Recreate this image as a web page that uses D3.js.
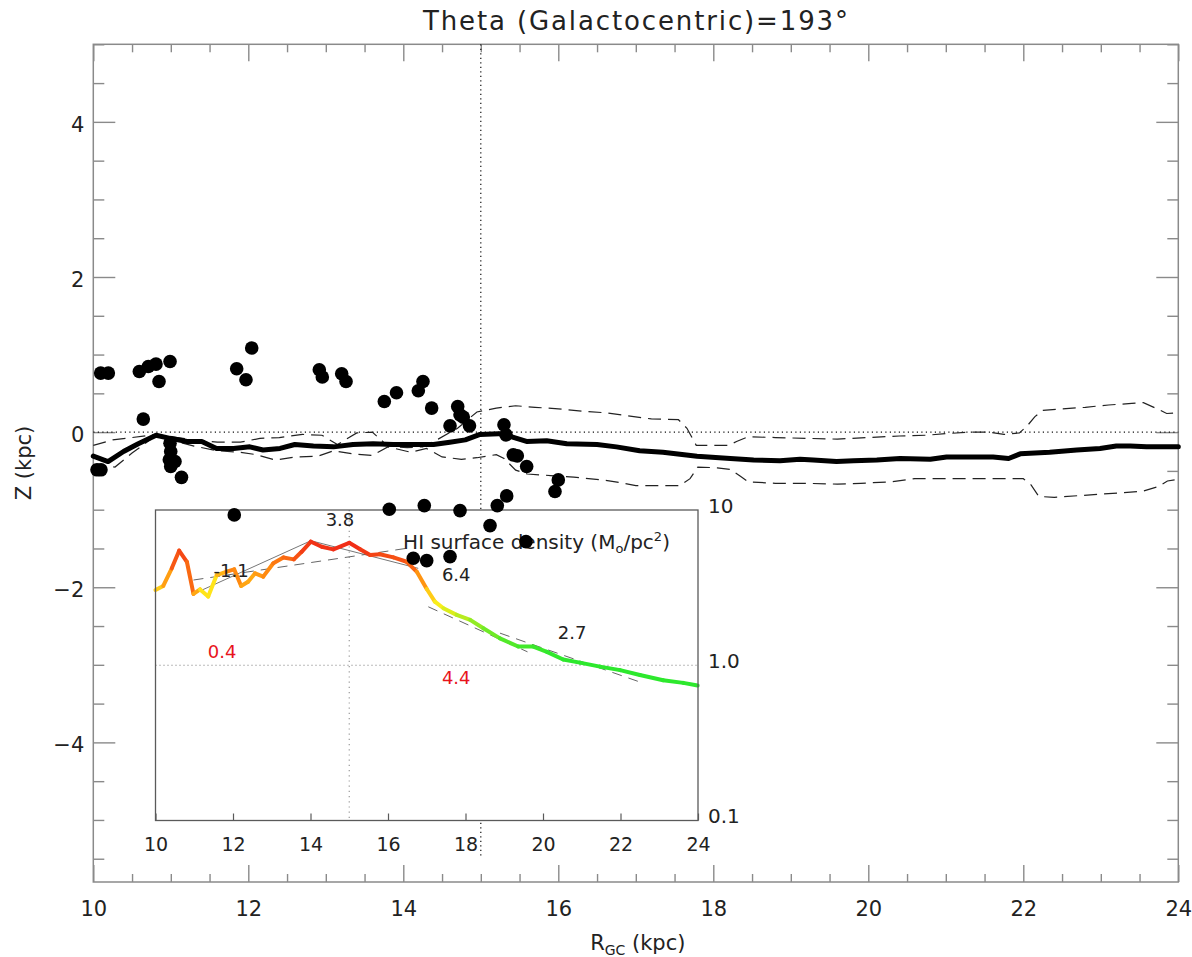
<!DOCTYPE html>
<html>
<head>
<meta charset="utf-8">
<script src="https://cdn.jsdelivr.net/npm/d3@7"></script>
<style>
  html, body { margin: 0; padding: 0; background: #fff; }
  svg { display: block; }
  text { font-family: "DejaVu Sans", sans-serif; fill: #222; }
</style>
</head>
<body>
<svg id="chart" width="1192" height="957"></svg>
<script>
// ---------- main panel: cluster positions (R, Z in kpc) ----------
const clusterR = [10.095, 10.194, 10.594, 10.710, 10.809, 10.990, 10.848, 10.645, 10.048, 10.099,
  10.990, 10.999, 10.981, 11.054, 10.999, 11.138, 11.850, 11.970, 12.044, 12.916,
  12.955, 13.205, 13.261, 13.755, 13.912, 14.194, 14.254, 14.366, 14.702, 14.732,
  14.774, 14.603, 14.854, 15.299, 15.325, 15.419, 15.471, 15.592, 16.000, 15.957,
  15.334, 15.213, 15.119, 13.819, 14.271, 14.732, 11.819, 15.583, 14.129, 14.302, 14.603];
const clusterZ = [0.761, 0.761, 0.782, 0.846, 0.877, 0.911, 0.653, 0.168, -0.486, -0.486,
  -0.142, -0.250, -0.357, -0.379, -0.444, -0.583, 0.817, 0.675, 1.084, 0.804,
  0.710, 0.752, 0.653, 0.395, 0.507, 0.533, 0.653, 0.310, 0.330, 0.223,
  0.194, 0.081, 0.081, 0.094, -0.035, -0.293, -0.306, -0.444, -0.616, -0.766,
  -0.822, -0.947, -1.205, -0.994, -0.947, -1.012, -1.067, -1.412, -1.626, -1.657, -1.605];

// ---------- main panel: mean HI mid-plane ----------
const meanR = [10.0, 10.19, 10.39, 10.58, 10.81, 10.99, 11.21, 11.40, 11.59, 11.81, 12.02, 12.19,
  12.41, 12.60, 12.84, 13.10, 13.35, 13.61, 13.87, 14.13, 14.39, 14.60, 14.80, 14.99, 15.23,
  15.40, 15.59, 15.85, 16.11, 16.50, 16.75, 17.05, 17.35, 17.79, 18.22, 18.52, 18.86, 19.12,
  19.29, 19.59, 19.81, 20.11, 20.41, 20.80, 21.01, 21.40, 21.61, 21.81, 21.96, 22.34, 22.69,
  22.99, 23.20, 23.38, 23.59, 24.0];
const meanZ = [-0.31, -0.38, -0.25, -0.15, -0.04, -0.08, -0.12, -0.12, -0.21, -0.21, -0.19, -0.23,
  -0.21, -0.16, -0.18, -0.19, -0.16, -0.15, -0.16, -0.16, -0.16, -0.13, -0.10, -0.03, -0.02,
  -0.06, -0.12, -0.11, -0.15, -0.16, -0.19, -0.24, -0.26, -0.31, -0.34, -0.36, -0.37, -0.35,
  -0.36, -0.38, -0.37, -0.36, -0.34, -0.35, -0.32, -0.32, -0.32, -0.34, -0.28, -0.26, -0.23,
  -0.21, -0.18, -0.18, -0.19, -0.19];

// ---------- main panel: upper / lower envelope ----------
const upperR = [10.0, 10.25, 10.5, 10.8, 11.0, 11.3, 11.6, 11.9, 12.15, 12.4, 12.7, 12.95, 13.15,
  13.4, 13.6, 13.8, 14.05, 14.25, 14.45, 14.7, 14.95, 15.2, 15.45, 15.7, 16.0, 16.3, 16.6, 16.9,
  17.2, 17.55, 17.66, 17.78, 18.2, 18.3, 18.45, 18.8, 19.2, 19.6, 20.0, 20.4, 20.75, 21.0, 21.3,
  21.55, 21.75, 21.95, 22.05, 22.15, 22.25, 22.5, 22.8, 23.1, 23.4, 23.55, 23.75, 23.85, 24.0];
const upperZ = [-0.17, -0.10, -0.07, -0.03, -0.06, -0.10, -0.13, -0.13, -0.08, -0.07, -0.03, -0.04, -0.16,
  -0.01, 0.0, -0.18, -0.20, -0.19, -0.09, 0.05, 0.26, 0.31, 0.34, 0.32, 0.30, 0.27, 0.25, 0.21,
  0.17, 0.16, 0.05, -0.17, -0.17, -0.12, -0.06, -0.07, -0.08, -0.09, -0.07, -0.05, -0.04, -0.02, 0.0,
  0.0, -0.03, -0.01, 0.08, 0.20, 0.28, 0.30, 0.32, 0.35, 0.37, 0.38, 0.29, 0.24, 0.25];
const lowerR = [10.0, 10.28, 10.5, 10.8, 11.0, 11.3, 11.6, 11.9, 12.1, 12.35, 12.6, 12.9, 13.1, 13.35,
  13.6, 13.8, 14.1, 14.3, 14.5, 14.75, 14.95, 15.2, 15.3, 15.45, 15.6, 15.9, 16.2, 16.6, 16.8, 17.0,
  17.3, 17.57, 17.7, 17.8, 18.05, 18.22, 18.35, 18.45, 18.8, 19.2, 19.6, 19.9, 20.3, 20.6, 21.0,
  21.4, 21.8, 22.0, 22.1, 22.2, 22.4, 22.7, 23.0, 23.3, 23.55, 23.75, 23.86, 24.0];
const lowerZ = [-0.42, -0.45, -0.27, -0.05, -0.10, -0.18, -0.24, -0.26, -0.29, -0.36, -0.32, -0.31, -0.24, -0.28,
  -0.30, -0.19, -0.26, -0.21, -0.32, -0.35, -0.33, -0.29, -0.34, -0.49, -0.54, -0.56, -0.58, -0.62, -0.65, -0.69,
  -0.69, -0.69, -0.60, -0.45, -0.46, -0.48, -0.57, -0.64, -0.66, -0.66, -0.67, -0.66, -0.64, -0.60, -0.60,
  -0.60, -0.60, -0.60, -0.68, -0.83, -0.84, -0.82, -0.80, -0.78, -0.76, -0.70, -0.63, -0.61];

// ---------- inset: HI surface density profile ----------
const hiR = [10.0, 10.20, 10.42, 10.61, 10.81, 10.98, 11.15, 11.36, 11.58, 11.84, 12.03, 12.21, 12.39,
  12.57, 12.78, 13.04, 13.30, 13.57, 13.77, 14.01, 14.29, 14.59, 15.0, 15.28, 15.54, 15.79, 16.14,
  16.48, 16.74, 17.0, 17.21, 17.43, 17.77, 18.12, 18.46, 18.89, 19.36, 19.75, 20.10, 20.52, 20.95,
  21.47, 21.99, 22.50, 23.10, 23.62, 23.99];
const hiSigma = [3.05, 3.24, 4.21, 5.47, 4.64, 2.88, 3.08, 2.77, 3.81, 4.01, 4.15, 3.24, 3.45,
  3.91, 3.72, 4.54, 4.95, 4.81, 5.38, 6.25, 5.80, 5.58, 6.15, 5.58, 5.13, 5.19, 4.95,
  4.64, 4.01, 3.10, 2.57, 2.33, 2.11, 1.96, 1.73, 1.49, 1.32, 1.32, 1.22, 1.09, 1.04,
  0.98, 0.93, 0.865, 0.80, 0.77, 0.74];
// colour tone along the profile: 0 = green, 0.5 = yellow, 1 = red
const hiTone = [0.55, 0.62, 0.78, 0.95, 0.85, 0.8, 0.55, 0.5, 0.55, 0.75, 0.78, 0.72, 0.65,
  0.7, 0.72, 0.78, 0.8, 0.85, 0.9, 0.95, 0.95, 0.95, 0.97, 0.95, 0.92, 0.9, 0.88,
  0.88, 0.8, 0.65, 0.52, 0.45, 0.38, 0.28, 0.2, 0.12, 0.06, 0.04, 0.02, 0.0, 0.0,
  0.0, 0.0, 0.0, 0.0, 0.0, 0.0];

// piecewise fits to the profile
const fitSolidR = [[11.02, 14.01], [14.01, 16.78]];
const fitSolidSigma = [[2.91, 6.34], [6.34, 4.21]];
const fitDashedR = [[10.98, 16.45], [17.04, 19.6], [18.89, 22.5]];
const fitDashedSigma = [[3.54, 5.65], [2.38, 1.22], [1.61, 0.78]];

// fit annotations
const slopeText = ["3.8", "-1.1", "6.4", "2.7"];
const slopeR = [14.76, 11.95, 17.76, 20.75];
const slopeSigma = [7.89, 3.70, 3.49, 1.476];
const scaleText = ["0.4", "4.4"];
const scaleR = [11.72, 17.76];
const scaleSigma = [1.113, 0.757];

// axis ticks
const xMajor = [10, 12, 14, 16, 18, 20, 22, 24];
const yMajor = [-4, -2, 0, 2, 4];
const insetXTicks = [10, 12, 14, 16, 18, 20, 22, 24];
const insetYTicks = [0.1, 1, 10];
const insetYLabels = ["0.1", "1.0", "10"];

const sunR = 15.0;   // solar-circle marker

// ---------- drawing ----------
const svg = d3.select("#chart");
svg.append("rect").attr("width", 1192).attr("height", 957).attr("fill", "#fff");

const x = d3.scaleLinear().domain([10, 24]).range([93.3, 1178.3]);
const y = d3.scaleLinear().domain([-5.8, 5]).range([882, 44.3]);
const axisColor = "#8a8a8a";

const xMinor = d3.range(10, 24.001, 0.5).filter(v => Math.abs(v % 2) > 1e-6);
const yMinor = d3.range(-5.5, 5.001, 0.5).filter(v => Math.abs(v % 2) > 1e-6);

function styleAxis(g) {
  g.select(".domain").remove();
  g.selectAll(".tick line").attr("stroke", axisColor).attr("stroke-width", 1.4);
  g.selectAll(".tick text").attr("fill", "#222").attr("font-size", 21)
    .attr("font-family", "DejaVu Sans, sans-serif");
}

const fmt = d3.format("d");
// bottom
svg.append("g").attr("transform", "translate(0,882)")
  .call(d3.axisBottom(x).tickValues(xMajor).tickSize(-17).tickPadding(19).tickFormat(fmt)).call(styleAxis);
svg.append("g").attr("transform", "translate(0,882)")
  .call(d3.axisBottom(x).tickValues(xMinor).tickSize(-8).tickFormat("")).call(styleAxis);
// top
svg.append("g").attr("transform", "translate(0,44.3)")
  .call(d3.axisTop(x).tickValues(xMajor).tickSize(-17).tickFormat("")).call(styleAxis);
svg.append("g").attr("transform", "translate(0,44.3)")
  .call(d3.axisTop(x).tickValues(xMinor).tickSize(-8).tickFormat("")).call(styleAxis);
// left
const leftAx = svg.append("g").attr("transform", "translate(93.3,0)")
  .call(d3.axisLeft(y).tickValues(yMajor).tickSize(-22).tickPadding(9).tickFormat(fmt)).call(styleAxis);
leftAx.selectAll(".tick text").attr("dy", "0.45em");
svg.append("g").attr("transform", "translate(93.3,0)")
  .call(d3.axisLeft(y).tickValues(yMinor).tickSize(-11).tickFormat("")).call(styleAxis);
// right
svg.append("g").attr("transform", "translate(1178.3,0)")
  .call(d3.axisRight(y).tickValues(yMajor).tickSize(-22).tickFormat("")).call(styleAxis);
svg.append("g").attr("transform", "translate(1178.3,0)")
  .call(d3.axisRight(y).tickValues(yMinor).tickSize(-11).tickFormat("")).call(styleAxis);

// frame
svg.append("rect").attr("x", x(10)).attr("y", y(5))
  .attr("width", x(24) - x(10)).attr("height", y(-5.8) - y(5))
  .attr("fill", "none").attr("stroke", axisColor).attr("stroke-width", 1.5);

// titles
svg.append("text").attr("x", 635.5).attr("y", 30)
  .attr("text-anchor", "middle").attr("font-size", 26)
  .attr("textLength", 425).attr("lengthAdjust", "spacing")
  .text("Theta (Galactocentric)=193°");

const xt = svg.append("text").attr("x", (x(10) + x(24)) / 2 + 2).attr("y", 950)
  .attr("text-anchor", "middle").attr("font-size", 21);
xt.append("tspan").text("R");
xt.append("tspan").attr("font-size", 14).attr("dy", 5).text("GC");
xt.append("tspan").attr("dy", -5).text(" (kpc)");

svg.append("text").attr("transform", "translate(31,463) rotate(-90)")
  .attr("text-anchor", "middle").attr("font-size", 21).text("Z (kpc)");

// reference lines
svg.append("line").attr("x1", x(10)).attr("x2", x(24)).attr("y1", y(0)).attr("y2", y(0))
  .attr("stroke", "#111").attr("stroke-width", 1.2).attr("stroke-dasharray", "1.2,3.3");
svg.append("line").attr("x1", x(sunR)).attr("x2", x(sunR)).attr("y1", y(5)).attr("y2", y(-5.5))
  .attr("stroke", "#111").attr("stroke-width", 1.2).attr("stroke-dasharray", "1.2,3.3");

const mainLine = d3.line().x(d => x(d[0])).y(d => y(d[1]));
svg.append("path").datum(d3.zip(upperR, upperZ)).attr("d", mainLine)
  .attr("fill", "none").attr("stroke", "#222").attr("stroke-width", 1.2).attr("stroke-dasharray", "13,7");
svg.append("path").datum(d3.zip(lowerR, lowerZ)).attr("d", mainLine)
  .attr("fill", "none").attr("stroke", "#222").attr("stroke-width", 1.2).attr("stroke-dasharray", "13,7");
svg.append("path").datum(d3.zip(meanR, meanZ)).attr("d", mainLine)
  .attr("fill", "none").attr("stroke", "#000").attr("stroke-width", 5)
  .attr("stroke-linejoin", "round").attr("stroke-linecap", "round");

// ---------- inset ----------
const xi = d3.scaleLinear().domain([10, 24]).range([155.5, 698]);
const yi = d3.scaleLog().domain([0.1, 10]).range([820.5, 510]);
const inset = svg.append("g");

inset.append("rect").attr("x", xi(10)).attr("y", yi(10))
  .attr("width", xi(24) - xi(10)).attr("height", yi(0.1) - yi(10)).attr("fill", "#fff");

inset.append("line").attr("x1", xi(10)).attr("x2", xi(24)).attr("y1", yi(1)).attr("y2", yi(1))
  .attr("stroke", "#777").attr("stroke-width", 1).attr("stroke-dasharray", "1,3");
inset.append("line").attr("x1", xi(sunR)).attr("x2", xi(sunR)).attr("y1", yi(10)).attr("y2", yi(0.1))
  .attr("stroke", "#999").attr("stroke-width", 1.2).attr("stroke-dasharray", "1.2,4");

// fits
fitSolidR.forEach((r, i) => {
  inset.append("line").attr("x1", xi(r[0])).attr("x2", xi(r[1]))
    .attr("y1", yi(fitSolidSigma[i][0])).attr("y2", yi(fitSolidSigma[i][1]))
    .attr("stroke", "#777").attr("stroke-width", 1);
});
fitDashedR.forEach((r, i) => {
  inset.append("line").attr("x1", xi(r[0])).attr("x2", xi(r[1]))
    .attr("y1", yi(fitDashedSigma[i][0])).attr("y2", yi(fitDashedSigma[i][1]))
    .attr("stroke", "#666").attr("stroke-width", 1).attr("stroke-dasharray", "10,7");
});

// coloured profile
const tone = d3.scaleLinear().domain([0, 0.5, 0.75, 1])
  .range(["#2de82d", "#ffee1a", "#ff8a10", "#ee1c18"]).clamp(true);
for (let i = 0; i < hiR.length - 1; i++) {
  inset.append("line")
    .attr("x1", xi(hiR[i])).attr("y1", yi(hiSigma[i]))
    .attr("x2", xi(hiR[i + 1])).attr("y2", yi(hiSigma[i + 1]))
    .attr("stroke", tone((hiTone[i] + hiTone[i + 1]) / 2))
    .attr("stroke-width", 4).attr("stroke-linecap", "round");
}

// annotations
slopeText.forEach((t, i) => {
  inset.append("text").attr("x", xi(slopeR[i])).attr("y", yi(slopeSigma[i]))
    .attr("text-anchor", "middle").attr("font-size", 18).attr("fill", "#111").text(t);
});
scaleText.forEach((t, i) => {
  inset.append("text").attr("x", xi(scaleR[i])).attr("y", yi(scaleSigma[i]))
    .attr("text-anchor", "middle").attr("font-size", 18).style("fill", "#e8141c").text(t);
});

const lab = inset.append("text").attr("x", xi(16.39)).attr("y", yi(5.61)).attr("font-size", 20);
lab.append("tspan").text("HI surface density (M");
lab.append("tspan").attr("font-size", 13).attr("dy", 4).text("o");
lab.append("tspan").attr("dy", -4).text("/pc");
lab.append("tspan").attr("font-size", 13).attr("dy", -8).text("2");
lab.append("tspan").attr("dy", 8).text(")");

// inset frame and axes
inset.append("rect").attr("x", xi(10)).attr("y", yi(10))
  .attr("width", xi(24) - xi(10)).attr("height", yi(0.1) - yi(10))
  .attr("fill", "none").attr("stroke", "#5a5a5a").attr("stroke-width", 1.3);

const ib = inset.append("g").attr("transform", `translate(0,${yi(0.1)})`)
  .call(d3.axisBottom(xi).tickValues(insetXTicks).tickSize(-7).tickPadding(17).tickFormat(fmt));
ib.select(".domain").remove();
ib.selectAll(".tick line").attr("stroke", "#5a5a5a").attr("stroke-width", 1.2);
ib.selectAll(".tick text").attr("font-size", 19).attr("fill", "#222")
  .attr("font-family", "DejaVu Sans, sans-serif");

const ir = inset.append("g").attr("transform", `translate(${xi(24)},0)`)
  .call(d3.axisRight(yi).tickValues(insetYTicks).tickSize(0).tickPadding(10)
    .tickFormat((d, i) => insetYLabels[i]));
ir.select(".domain").remove();
ir.selectAll(".tick text").attr("font-size", 20).attr("fill", "#222").attr("dy", "0.1em")
  .attr("font-family", "DejaVu Sans, sans-serif");

// cluster markers on top
svg.append("g").selectAll("circle").data(d3.zip(clusterR, clusterZ)).join("circle")
  .attr("cx", d => x(d[0])).attr("cy", d => y(d[1])).attr("r", 6.8).attr("fill", "#000");
</script>
</body>
</html>
